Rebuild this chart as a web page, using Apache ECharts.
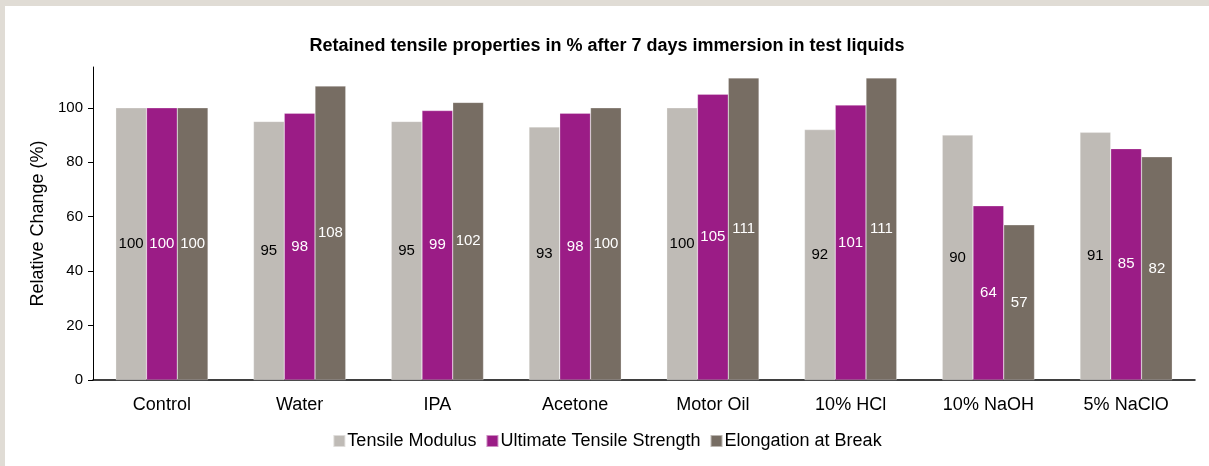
<!DOCTYPE html>
<html>
<head>
<meta charset="utf-8">
<script src="https://cdn.jsdelivr.net/npm/echarts@6/dist/echarts.min.js"></script>
<style>
  html, body { margin: 0; padding: 0; background: #e0dcd5; width: 1209px; height: 466px; overflow: hidden; }
  #main { position: absolute; left: 5px; top: 6px; width: 1204px; height: 460px; background: #ffffff; }
</style>
</head>
<body>
<div id="main"></div>
<script>
// categories and values
var categories = ['Control', 'Water', 'IPA', 'Acetone', 'Motor Oil', '10% HCl', '10% NaOH', '5% NaClO'];
var tensileModulus = [100, 95, 95, 93, 100, 92, 90, 91];
var ultimateStrength = [100, 98, 99, 98, 105, 101, 64, 85];
var elongation = [100, 108, 102, 100, 111, 111, 57, 82];
var yTicks = [0, 20, 40, 60, 80, 100];

var chart = echarts.init(document.getElementById('main'));

function barSeries(name, data, color, labelColor) {
    return {
        name: name,
        type: 'bar',
        data: data,
        barGap: '0%',
        barCategoryGap: '33%',
        itemStyle: { color: color, borderColor: 'rgba(255,255,255,0.5)', borderWidth: 0.5 },
        label: {
            show: true,
            position: 'inside',
            color: labelColor,
            fontSize: 15,
            fontFamily: 'Liberation Sans'
        }
    };
}

var option = {
    animation: false,
    title: {
        text: 'Retained tensile properties in % after 7 days immersion in test liquids',
        left: 'center',
        top: 26,
        textStyle: { fontFamily: 'Liberation Sans', fontSize: 18, fontWeight: 'bold', color: '#000' }
    },
    legend: {
        bottom: 11,
        left: 'center',
        itemWidth: 12,
        itemHeight: 12,
        itemGap: 9,
        icon: 'rect',
        textStyle: { fontFamily: 'Liberation Sans', fontSize: 18, color: '#000', padding: [0, 0, 0, -3] }
    },
    grid: { left: 88, right: 14, top: 61, bottom: 86 },
    xAxis: {
        type: 'category',
        data: categories,
        axisLine: { lineStyle: { color: '#000', width: 1.5 } },
        axisTick: { show: false },
        axisLabel: { fontFamily: 'Liberation Sans', fontSize: 18, color: '#000', margin: 16 }
    },
    yAxis: {
        type: 'value',
        min: 0,
        max: 115,
        interval: 20,
        name: 'Relative Change (%)',
        nameLocation: 'middle',
        nameGap: 40,
        nameTextStyle: { fontFamily: 'Liberation Sans', fontSize: 18, color: '#000' },
        axisLine: { show: true, lineStyle: { color: '#000', width: 1 } },
        axisTick: { show: true, length: 5, customValues: yTicks, lineStyle: { color: '#000' } },
        splitLine: { show: false },
        axisLabel: { fontFamily: 'Liberation Sans', fontSize: 15, color: '#000', margin: 10, customValues: yTicks }
    },
    series: [
        barSeries('Tensile Modulus', tensileModulus, '#bfbbb6', '#000'),
        barSeries('Ultimate Tensile Strength', ultimateStrength, '#9b1c86', '#fff'),
        barSeries('Elongation at Break', elongation, '#776d63', '#fff')
    ]
};

chart.setOption(option);
</script>
</body>
</html>
